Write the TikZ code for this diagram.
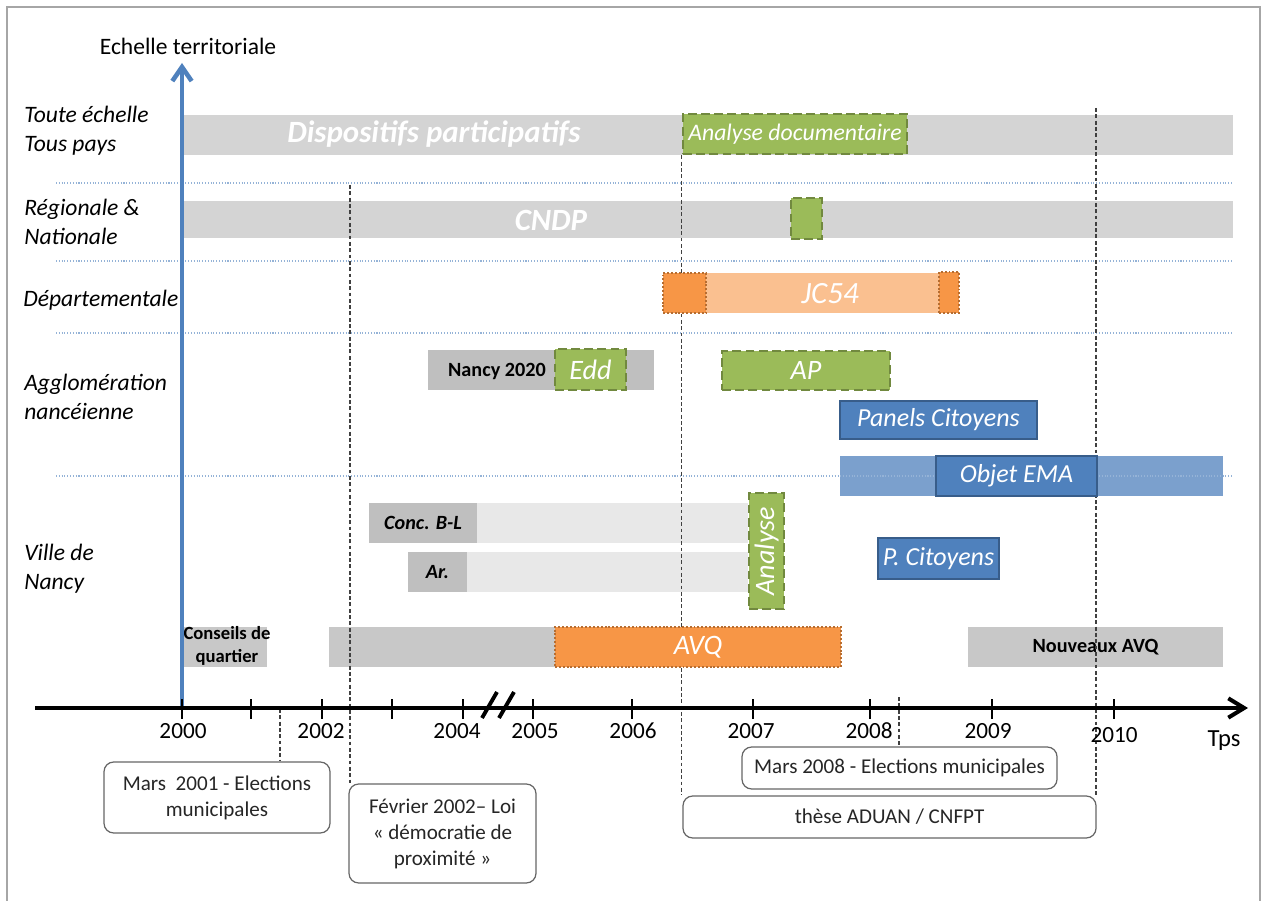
\documentclass[tikz,border=0pt]{standalone}
\usepackage{fontspec}
\setmainfont{Carlito}
\usetikzlibrary{fit,arrows.meta}

\definecolor{grisclair}{HTML}{D4D4D4}
\definecolor{grismoyen}{HTML}{C8C8C8}
\definecolor{grisfonce}{HTML}{BFBFBF}
\definecolor{grispale}{HTML}{E8E8E8}
\definecolor{vert}{HTML}{9BBB59}
\definecolor{vertfonce}{HTML}{71893F}
\definecolor{orangevif}{HTML}{F79646}
\definecolor{orangepale}{HTML}{FAC090}
\definecolor{orangefonce}{HTML}{B66D31}
\definecolor{bleu}{HTML}{4F81BD}
\definecolor{bleufonce}{HTML}{385D8A}
\definecolor{bleupale}{HTML}{7BA0CD}
\definecolor{bleusep}{HTML}{95B3D7}
\definecolor{cadre}{HTML}{A6A6A6}

\newcommand{\ftrow}{\fontsize{13.4}{16.5}\selectfont\itshape}
\newcommand{\ftrowup}{\fontsize{13.4}{16.5}\selectfont}
\newcommand{\ftyear}{\fontsize{13.2}{15}\selectfont}
\newcommand{\fttps}{\fontsize{14}{16}\selectfont}
\newcommand{\ftbig}{\fontsize{17.6}{20}\selectfont\bfseries\itshape}
\newcommand{\ftbigit}{\fontsize{17.6}{20}\selectfont\itshape}
\newcommand{\ftmed}{\fontsize{13.5}{16}\selectfont\itshape}
\newcommand{\ftedd}{\fontsize{16}{18}\selectfont\itshape}
\newcommand{\ftblue}{\fontsize{14.8}{17}\selectfont\itshape}
\newcommand{\ftsmallbold}{\fontsize{11.5}{14}\selectfont\bfseries}
\newcommand{\ftsmallbi}{\fontsize{11.5}{14}\selectfont\bfseries\itshape}
\newcommand{\ftconseil}{\fontsize{10.6}{13}\selectfont\bfseries}
\newcommand{\ftevent}{\fontsize{12}{14.8}\selectfont}

\begin{document}
\begin{tikzpicture}[x=0.02cm,y=-0.02cm,
    bar/.style={fill=#1,draw=none,inner sep=0pt},
    greenbox/.style={fill=vert,draw=vertfonce,line width=1.6pt,dash pattern=on 5pt off 2.5pt,inner sep=0pt},
    orangebox/.style={fill=orangevif,draw=orangefonce,line width=1.2pt,dash pattern=on 1.1pt off 1.1pt,inner sep=0pt},
    bluebox/.style={fill=bleu,draw=bleufonce,line width=1.5pt,inner sep=0pt},
    eventbox/.style={draw=black!60,line width=0.7pt,rounded corners=5.5pt,inner sep=0pt},
    guide/.style={line width=0.6pt,black!75,dash pattern=on 2.2pt off 1.4pt},
    sep/.style={line width=0.6pt,bleusep,densely dotted},
    rowlabel/.style={anchor=west,align=left,inner sep=0pt,font=\ftrow},
    white text/.style={text=white,font=#1},
    event text/.style={text=black!85,align=center,font=\ftevent},
  ]

  \useasboundingbox (0,0) rectangle (1264,901);

  % Frame
  \draw[cadre,line width=1.4pt] (7,930) -- (7,7) -- (1260,7) -- (1260,930);

  % Row labels
  \node[rowlabel] (toute) at (24,131) {Toute échelle\\Tous pays};
  \node[rowlabel] (regio) at (24,222) {Régionale \&\\Nationale};
  \node[rowlabel] (depart) at (23,300) {Départementale};
  \node[rowlabel] (agglo) at (24,397) {Agglomération\\nancéienne};
  \node[rowlabel] (ville) at (24,569) {Ville de\\Nancy};

  % Grey bars
  \node[bar=grisclair,fit={(183,115) (1233,155)}] (dispositifs) {};
  \node[white text=\ftbig] (dispositifslbl) at (434,134) {Dispositifs participatifs};
  \node[bar=grisclair,fit={(183,201) (1233,238)}] (cndp) {};
  \node[white text=\ftbig] (cndplbl) at (551,220) {CNDP};
  \node[bar=orangepale,fit={(705,273) (939,313)}] (jc54) {};
  \node[bar=grisfonce,fit={(428,350) (654,390)}] (nancy) {};
  \node[font=\ftsmallbold] (nancylbl) at (497,371) {Nancy 2020};
  \node[bar=bleupale,fit={(840,456) (1223,496)}] (emabar) {};
  \node[bar=grispale,fit={(369,503) (748,543)}] (concbar) {};
  \node[bar=grisfonce,fit={(369,503) (477,543)},
    label={[name=conclbl,font=\ftsmallbi]center:Conc. B-L}] (conc) {};
  \node[bar=grispale,fit={(408,552) (748,592)}] (arbar) {};
  \node[bar=grisfonce,fit={(408,552) (467,592)},
    label={[name=arlbl,font=\ftsmallbi]center:Ar.}] (ar) {};
  \node[bar=grismoyen,fit={(183,627) (267,667)}] (conseils) {};
  \node[font=\ftconseil,align=center] (conseilslbl) at (227,646) {Conseils de\\quartier};
  \node[bar=grismoyen,fit={(329,627) (555,667)}] (avqbar) {};
  \node[bar=grismoyen,fit={(968,627) (1223,667)},
    label={[name=nouveauxlbl,font=\ftsmallbold]center:Nouveaux AVQ}] (nouveaux) {};

  % Separators
  \foreach \y in {183,261,333,476}
    \draw[sep] (56,\y) -- (1233,\y);

  % Events
  \node[eventbox,fit={(104,762) (330,833)},
    label={[name=mars01lbl,event text]center:Mars~ 2001 - Elections\\municipales}] (mars01) {};
  \node[eventbox,fit={(349,784) (536,883)},
    label={[name=fevrierlbl,event text]center:Février 2002– Loi\\« démocratie de\\proximité »}] (fevrier) {};
  \node[eventbox,fit={(742,747) (1057,789)},
    label={[name=mars08lbl,event text]center:Mars 2008 - Elections municipales}] (mars08) {};
  \node[eventbox,fit={(683,796) (1096,838)},
    label={[name=theselbl,event text]center:thèse ADUAN / CNFPT}] (these) {};

  % Green boxes
  \node[greenbox,fit={(683,114) (907,154)},
    label={[name=anadoclbl,white text=\ftmed]center:Analyse documentaire}] (anadoc) {};
  \node[greenbox,fit={(791,198) (822,239)}] (cndpana) {};
  \node[greenbox,fit={(555,349) (626,390)},
    label={[name=eddlbl,white text=\ftedd]center:Edd}] (edd) {};
  \node[greenbox,fit={(722,351) (890,390)},
    label={[name=aplbl,white text=\ftedd]center:AP}] (ap) {};
  \node[greenbox,fit={(749,493) (784,609)}] (analyse) {};
  \node[rotate=90,white text=\ftedd] (analyselbl) at (analyse.center) {Analyse};

  % Guides
  \coordinate (g2001) at (280,709);
  \coordinate (g2002) at (350,185);
  \coordinate (g2008) at (899,697);
  \coordinate (g2010) at (1096,108);
  \draw[guide] (g2001) -- (g2001 |- mars01.north);
  \draw[guide] (g2002) -- (g2002 |- fevrier.north);
  \draw[guide] (anadoc.south west) -- (anadoc.south west |- these.north);
  \draw[guide] (g2008) -- (g2008 |- mars08.north);
  \draw[guide] (g2010) -- (g2010 |- these.north);

  % Orange boxes
  \node[orangebox,fit={(663,273) (706,313)}] (jcleft) {};
  \node[orangebox,fit={(939,272) (959,313)}] (jcright) {};
  \node[white text=\ftbigit] (jclbl) at (830,294) {JC54};
  \node[orangebox,fit={(555,627) (841,667)},
    label={[name=avqlbl,white text=\ftedd]center:AVQ}] (avq) {};

  % Blue boxes
  \node[bluebox,fit={(840,401) (1037,439)},
    label={[name=panelslbl,white text=\ftblue]center:Panels Citoyens}] (panels) {};
  \node[bluebox,fit={(936,456) (1097,496)},
    label={[name=emalbl,white text=\ftblue]center:Objet EMA}] (ema) {};
  \node[bluebox,fit={(878,538) (999,579)},
    label={[name=pcitlbl,white text=\ftblue]center:P. Citoyens}] (pcit) {};

  % Scale axis
  \coordinate (yorig) at (182,708);
  \coordinate (ytop) at (182,63);
  \draw[bleu,line width=2.6pt,-{Straight Barb[length=8pt,width=11pt]}] (yorig) -- (ytop);
  \node[font=\ftrowup] (echelle) at (188,46) {Echelle territoriale};

  % Time axis
  \coordinate (tstart) at (35,708);
  \coordinate (tend) at (1248,708);
  \draw[line width=2.3pt,-{Straight Barb[length=9pt,width=11pt]}] (tstart) -- (tend);
  \foreach \x in {182,251,322,392,463,533,632,753,870,992,1114}
    \draw[line width=1.6pt] (\x,699) -- (\x,719);
  \foreach \x in {482,499}
    \draw[line width=2.2pt] (\x,718) -- (\x+15,692);
  \foreach \x/\yr in {183/2000,321/2002,457/2004,535/2005,633/2006,751/2007,869/2008,988/2009}
    \node[font=\ftyear] (yr\yr) at (\x,731) {\yr};
  \node[font=\ftyear] (yr2010) at (1114,735) {2010};
  \node[font=\fttps] (tps) at (1224,741) {Tps};

\end{tikzpicture}
\end{document}
